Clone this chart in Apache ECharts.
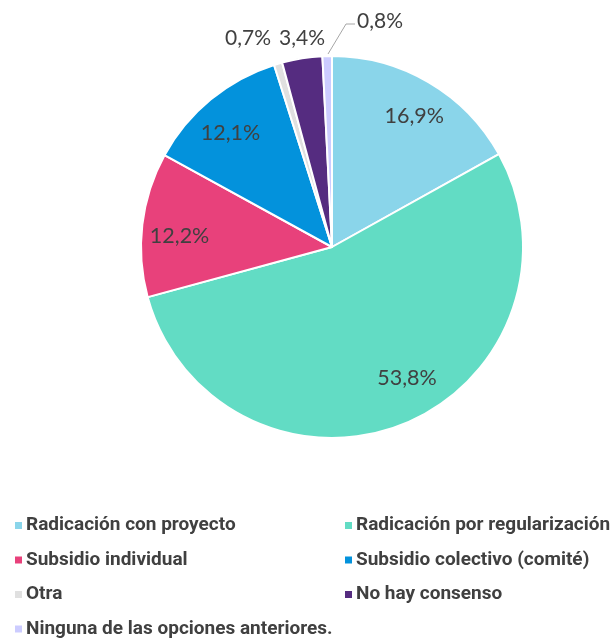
<!DOCTYPE html>
<html><head><meta charset="utf-8">
<script src="https://cdn.jsdelivr.net/npm/echarts@6/dist/echarts.min.js"></script>
<style>html,body{margin:0;padding:0;background:#fff}#c{width:613px;height:639px}</style>
</head><body><div id="c"></div>
<script>
var categories = ['Radicación con proyecto','Radicación por regularización','Subsidio individual','Subsidio colectivo (comité)','Otra','No hay consenso','Ninguna de las opciones anteriores.'];
var values = [16.9, 53.8, 12.2, 12.1, 0.7, 3.4, 0.8];
var colors = ['#8AD5EA','#62DCC4','#E8417B','#0392DC','#E0E0E0','#552C80','#CCCCFF'];
var insideIdx = [0,1,2,3];
var leftLegend = [categories[0], categories[2], categories[4], categories[6]];
var rightLegend = [categories[1], categories[3], categories[5]];

function fmt(v){ return v.toFixed(1).replace('.', ',') + '%'; }

var chart = echarts.init(document.getElementById('c'), null, {renderer:'canvas'});
var mainData = categories.map(function(n,i){
  return {name:n, value:values[i], itemStyle:{color:colors[i]},
    label:{show: insideIdx.indexOf(i) < 0}, labelLine:{show: i===6}};
});
var overlayData = categories.map(function(n,i){
  return {name:n, value:values[i], label:{show: insideIdx.indexOf(i) >= 0}};
});
var outerPos = {4:[248,38], 5:[302,38], 6:[380,21]};
var innerShift = {0:[3,4], 1:[16,-14], 2:[3,7], 3:[-2,7]};
var legendBase = {
  orient:'vertical', top: 511, height: 200,
  itemWidth:7, itemHeight:7, itemGap:15.5, itemStyle:{borderWidth:0},
  icon:'rect',
  textStyle:{fontFamily:'Roboto', fontWeight:'bold', fontSize:19, color:'#404040', padding:[0,0,0,-1]}
};
chart.setOption({
  animation:false,
  color: colors,
  legend:[
    Object.assign({}, legendBase, {data:leftLegend, left:10}),
    Object.assign({}, legendBase, {data:rightLegend, left:340})
  ],
  series:[
    {
      type:'pie', center:[332,247], radius:[0,191], startAngle:90, clockwise:true,
      avoidLabelOverlap:false,
      itemStyle:{borderColor:'#fff', borderWidth:2},
      label:{position:'outside', formatter:function(p){return fmt(p.value);}, fontFamily:'Lato', fontSize:21, color:'#404040'},
      labelLine:{lineStyle:{color:'#A6A6A6', width:1}},
      labelLayout:function(p){
        var pos = outerPos[p.dataIndex];
        if(!pos) return {};
        var o = {x:pos[0], y:pos[1], align:'center', verticalAlign:'middle'};
        if(p.dataIndex===6){ o.labelLinePoints = [[328,54],[346,24],[355,24]]; }
        return o;
      },
      data: mainData
    },
    {
      type:'pie', center:[332,247], radius:[116,191], startAngle:90, clockwise:true,
      silent:true, legendHoverLink:false,
      itemStyle:{color:'rgba(0,0,0,0)', borderWidth:0},
      label:{position:'inside', formatter:function(p){return fmt(p.value);}, fontFamily:'Lato', fontSize:21.5, color:'#404040'},
      labelLine:{show:false},
      labelLayout:function(p){
        var s = innerShift[p.dataIndex];
        return s ? {dx:s[0], dy:s[1]} : {};
      },
      data: overlayData
    }
  ]
});
</script></body></html>
